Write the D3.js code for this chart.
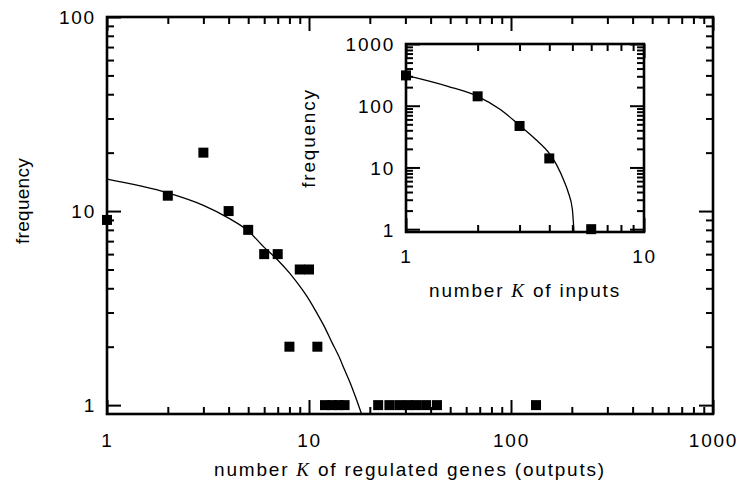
<!DOCTYPE html>
<html>
<head>
<meta charset="utf-8">
<script src="https://cdn.jsdelivr.net/npm/d3@7"></script>
<style>
  body { margin: 0; background: #fff; }
  text { font-family: "Liberation Sans", Arial, sans-serif; font-size: 19px; letter-spacing: 1.8px; fill: #000; }
  .kvar { font-family: "Liberation Serif", serif; font-style: italic; }
</style>
</head>
<body>
<svg id="chart" width="741" height="486"></svg>
<script>
// main plot: number of regulated genes (outputs)
var outK    = [1, 2, 3, 4, 5, 6, 7, 8, 9, 10, 11, 12, 13, 14, 15, 22, 25, 28, 31, 34, 38, 43, 133];
var outFreq = [9, 12, 20, 10, 8, 6, 6, 2, 5, 5, 2, 1, 1, 1, 1, 1, 1, 1, 1, 1, 1, 1, 1];

// fitted line
var outFitK    = [1, 2, 3, 4, 5, 6, 7, 8, 9, 10, 11, 12, 13, 14, 15, 16, 17, 18.2];
var outFitFreq = [14.6, 12.4, 10.7, 9.2, 7.9, 6.5, 5.6, 4.8, 4.1, 3.5, 2.95, 2.5, 2.1, 1.8, 1.52, 1.3, 1.1, 0.9];

// inset: number of inputs
var inK    = [1, 2, 3, 4, 6];
var inFreq = [310, 142, 47, 14, 1];

var inFitK    = [1, 1.5, 2, 2.5, 3, 3.5, 4, 4.3, 4.6, 4.8, 5.0, 5.08];
var inFitFreq = [310, 206, 142, 86, 48, 28.6, 16.9, 10.9, 6.2, 4.0, 2.1, 0.9];

// tick values
var outXMajor = [1, 10, 100, 1000];
var outYMajor = [1, 10, 100];
var inXMajor = [1, 10];
var inYMajor = [1, 10, 100, 1000];

function minorTicks(lo, hi) {
  var t = [];
  for (var d = lo; d < hi; d *= 10) {
    for (var m = 2; m <= 9; m++) t.push(m * d);
  }
  return t;
}

var svg = d3.select("#chart");

function drawPanel(g, x, y, opt) {
  var x0 = x.range()[0], x1 = x.range()[1];
  var y0 = y.range()[0], y1 = y.range()[1];

  g.append("rect")
    .attr("x", x0).attr("y", y1)
    .attr("width", x1 - x0).attr("height", y0 - y1)
    .attr("fill", "#fff");

  // ticks on all four sides, pointing inward
  function ticks(axisFn, values, size, pos, labels) {
    var ax = g.append("g")
      .attr("transform", pos)
      .call(axisFn.tickValues(values).tickSize(-size).tickPadding(0)
        .tickFormat(labels ? d3.format("d") : ""));
    ax.select(".domain").remove();
    ax.selectAll("line").attr("stroke", "#000").attr("stroke-width", 2);
    ax.selectAll("text").attr("font-size", null).attr("font-family", null);
    return ax;
  }

  var xMin = minorTicks(x.domain()[0], x.domain()[1]);
  var yMin = minorTicks(1, y.domain()[1]);

  ticks(d3.axisBottom(x), xMin, 7, `translate(0,${y0})`, false);
  ticks(d3.axisTop(x), xMin, 7, `translate(0,${y1})`, false);
  ticks(d3.axisLeft(y), yMin, 7, `translate(${x0},0)`, false);
  ticks(d3.axisRight(y), yMin, 7, `translate(${x1},0)`, false);

  ticks(d3.axisTop(x), opt.xMajor, 14, `translate(0,${y1})`, false);
  ticks(d3.axisRight(y), opt.yMajor, 14, `translate(${x1},0)`, false);

  var bx = ticks(d3.axisBottom(x), opt.xMajor, 14, `translate(0,${y0})`, true);
  bx.selectAll("text").attr("y", opt.xLabelY).attr("dy", 0);

  var ly = ticks(d3.axisLeft(y), opt.yMajor, 14, `translate(${x0},0)`, true);
  ly.selectAll("text").attr("x", -11).attr("dy", "0.36em");

  g.append("rect")
    .attr("x", x0).attr("y", y1)
    .attr("width", x1 - x0).attr("height", y0 - y1)
    .attr("fill", "none").attr("stroke", "#000").attr("stroke-width", 2.6);

  var line = d3.line()
    .x(d => x(d[0]))
    .y(d => y(d[1]))
    .curve(d3.curveMonotoneX);

  g.append("path")
    .datum(d3.zip(opt.fitK, opt.fitFreq))
    .attr("d", line)
    .attr("fill", "none")
    .attr("stroke", "#000")
    .attr("stroke-width", 1.3);

  g.selectAll(".pt")
    .data(d3.zip(opt.k, opt.freq))
    .join("rect")
      .attr("class", "pt")
      .attr("x", d => x(d[0]) - 5)
      .attr("y", d => y(d[1]) - 5)
      .attr("width", 10)
      .attr("height", 10)
      .attr("fill", "#000");

  // axis titles
  var xt = g.append("text")
    .attr("x", (x0 + x1) / 2)
    .attr("y", opt.xTitleY)
    .attr("text-anchor", "middle");
  xt.append("tspan").text(opt.xTitle[0]);
  xt.append("tspan").attr("class", "kvar").text("K");
  xt.append("tspan").text(opt.xTitle[1]);

  g.append("text")
    .attr("transform", `translate(${opt.yTitleX},${opt.yTitleY}) rotate(-90)`)
    .attr("text-anchor", "middle")
    .style("letter-spacing", opt.yTitleSpacing + "px")
    .text("frequency");
}

// main panel
var xMain = d3.scaleLog().domain([1, 1000]).range([107, 713]);
var yMain = d3.scaleLog().domain([0.9, 100]).range([414, 17]);

drawPanel(svg.append("g"), xMain, yMain, {
  xMajor: outXMajor, yMajor: outYMajor,
  k: outK, freq: outFreq, fitK: outFitK, fitFreq: outFitFreq,
  xLabelY: 33, xTitleY: 476, xTitle: ["number ", " of regulated genes (outputs)"],
  yTitleX: 29, yTitleY: 201, yTitleSpacing: 0.3
});

// inset panel
var xIn = d3.scaleLog().domain([1, 10]).range([406, 644]);
var yIn = d3.scaleLog().domain([0.9, 1000]).range([232, 44]);

drawPanel(svg.append("g"), xIn, yIn, {
  xMajor: inXMajor, yMajor: inYMajor,
  k: inK, freq: inFreq, fitK: inFitK, fitFreq: inFitFreq,
  xLabelY: 31, xTitleY: 297, xTitle: ["number ", " of inputs"],
  yTitleX: 315, yTitleY: 138, yTitleSpacing: 1.8
});
</script>
</body>
</html>
